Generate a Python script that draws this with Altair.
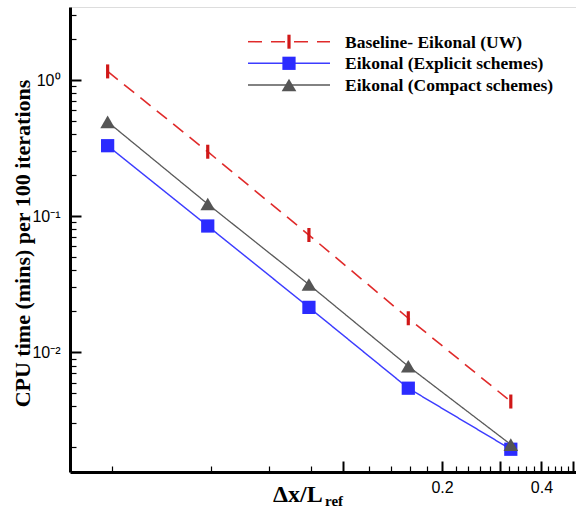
import altair as alt
import pandas as pd

# ---- data ----
dx = [0.0194, 0.039, 0.079, 0.158, 0.323]
baseline_uw = [1.16, 0.298, 0.0728, 0.0178, 0.00435]
explicit = [0.33, 0.0848, 0.0214, 0.00545, 0.00194]
compact = [0.494, 0.123, 0.0315, 0.0079, 0.0021]

series_names = ["Baseline- Eikonal (UW)", "Eikonal (Explicit schemes)", "Eikonal (Compact schemes)"]
series_values = [baseline_uw, explicit, compact]
line_colors = ["#e02a2a", "#3c3cff", "#5a5a5a"]
marker_colors = ["#d01818", "#2b2bff", "#555555"]

x_labels = [0.2, 0.4]
x_major = [0.1, 0.2, 0.3, 0.4, 0.5]
x_minor = [0.02, 0.04, 0.06, 0.08, 0.12, 0.14, 0.16, 0.18, 0.22, 0.24, 0.26, 0.28,
           0.32, 0.34, 0.36, 0.38, 0.42, 0.44, 0.46, 0.48]
y_labels = [1, 0.1, 0.01]
y_label_text = ["10⁰", "10⁻¹", "10⁻²"]
y_minor = [3, 2, 0.9, 0.8, 0.7, 0.6, 0.5, 0.4, 0.3, 0.2,
           0.09, 0.08, 0.07, 0.06, 0.05, 0.04, 0.03, 0.02,
           0.009, 0.008, 0.007, 0.006, 0.005, 0.004, 0.003, 0.002]

W, H = 506, 465

rows = []
for name, vals in zip(series_names, series_values):
    for xv, yv in zip(dx, vals):
        rows.append({"dx": xv, "cpu": yv, "series": name})
df = pd.DataFrame(rows)

xscale = alt.Scale(type="log", domain=[0.01492, 0.509], nice=False)
yscale = alt.Scale(type="log", domain=[0.00132, 3.45], nice=False)

y_label_expr = " : ".join(
    [f"datum.value == {v} ? '{t}'" for v, t in zip(y_labels, y_label_text)]) + " : ''"

main_x_axis = alt.Axis(values=x_labels, format=".1f", title=None, ticks=False, tickSize=0,
                       domain=True, domainWidth=3, domainColor="black", grid=False,
                       labelFont="Liberation Sans", labelFontSize=16, labelColor="black",
                       labelPadding=7)
main_y_axis = alt.Axis(values=y_labels, labelExpr=y_label_expr, ticks=False, tickSize=0,
                       domain=True, domainWidth=3, domainColor="black", grid=False,
                       labelFont="Liberation Sans", labelFontSize=16, labelColor="black",
                       labelPadding=10,
                       title="CPU time (mins) per 100 iterations",
                       titleFont="Liberation Serif", titleFontWeight="bold", titleFontSize=22,
                       titleColor="black", titleAngle=270, titleX=-41, titleY=236,
                       titleAlign="center", titleBaseline="alphabetic")

x_major_test = "indexof(" + str(x_major) + ", datum.value) >= 0"
y_major_test = "indexof(" + str(y_labels) + ", datum.value) >= 0"

tick_x_axis = alt.Axis(orient="top", offset=-H, values=x_major + x_minor, labels=False,
                       domain=False, grid=False, title=None, tickColor="black",
                       tickSize={"condition": {"test": x_major_test, "value": 11}, "value": 6},
                       tickWidth={"condition": {"test": x_major_test, "value": 2}, "value": 1.2})
tick_y_axis = alt.Axis(orient="right", offset=-W, values=y_labels + y_minor, labels=False,
                       domain=False, grid=False, title=None, tickColor="black",
                       tickSize={"condition": {"test": y_major_test, "value": 11}, "value": 6},
                       tickWidth={"condition": {"test": y_major_test, "value": 2}, "value": 1.2})

color_scale = alt.Scale(domain=series_names, range=line_colors)
dash_scale = alt.Scale(domain=series_names, range=[[13, 8], [1, 0], [1, 0]])
width_scale = alt.Scale(domain=series_names, range=[1.6, 1.3, 1.3])

lines = alt.Chart(df).mark_line().encode(
    x=alt.X("dx:Q", scale=xscale, axis=main_x_axis),
    y=alt.Y("cpu:Q", scale=yscale, axis=main_y_axis),
    color=alt.Color("series:N", scale=color_scale, legend=None),
    strokeDash=alt.StrokeDash("series:N", scale=dash_scale, legend=None),
    strokeWidth=alt.StrokeWidth("series:N", scale=width_scale, legend=None),
)

squares = alt.Chart(df).transform_filter(
    alt.datum.series == series_names[1]
).mark_point(shape="square", filled=True, size=175, opacity=1, color=marker_colors[1]).encode(
    x=alt.X("dx:Q", scale=xscale, axis=tick_x_axis),
    y=alt.Y("cpu:Q", scale=yscale, axis=tick_y_axis),
)

triangles = alt.Chart(df).transform_filter(
    alt.datum.series == series_names[2]
).mark_point(shape="triangle-up", filled=True, size=215, opacity=1, color=marker_colors[2]).encode(
    x=alt.X("dx:Q", scale=xscale, axis=None),
    y=alt.Y("cpu:Q", scale=yscale, axis=None),
)

bars = alt.Chart(df).transform_filter(
    alt.datum.series == series_names[0]
).mark_point(shape="M0,-1L0,1", filled=False, size=196, strokeWidth=3.2, opacity=1,
             color=marker_colors[0]).encode(
    x=alt.X("dx:Q", scale=xscale, axis=None),
    y=alt.Y("cpu:Q", scale=yscale, axis=None),
)

# ---- manual legend ----
legend_layers = []
leg_y = [34.7, 56.3, 78.0]
marker_specs = [
    dict(shape="M0,-1L0,1", filled=False, size=196, strokeWidth=3.2),
    dict(shape="square", filled=True, size=175),
    dict(shape="triangle-up", filled=True, size=215),
]
dashes = [[14, 9], [1, 0], [1, 0]]
for i, name in enumerate(series_names):
    one = pd.DataFrame({"name": [name]})
    legend_layers.append(
        alt.Chart(one).mark_rule(color=line_colors[i], strokeWidth=1.5, strokeDash=dashes[i]).encode(
            x=alt.value(178), x2=alt.value(260), y=alt.value(leg_y[i])))
    legend_layers.append(
        alt.Chart(one).mark_point(color=marker_colors[i], opacity=1, **marker_specs[i]).encode(
            x=alt.value(219), y=alt.value(leg_y[i])))
    legend_layers.append(
        alt.Chart(one).mark_text(align="left", baseline="middle", font="Liberation Serif",
                                 fontWeight="bold", fontSize=17.5, color="black").encode(
            x=alt.value(275), y=alt.value(leg_y[i] + 1), text="name:N"))

# ---- x title with subscript ----
title_main = alt.Chart(pd.DataFrame({"t": ["Δx/L"]})).mark_text(
    align="left", baseline="alphabetic", font="Liberation Serif", fontWeight="bold",
    fontSize=24, color="black").encode(x=alt.value(203), y=alt.value(495), text="t:N")
title_sub = alt.Chart(pd.DataFrame({"t": ["ref"]})).mark_text(
    align="left", baseline="alphabetic", font="Liberation Serif", fontWeight="bold",
    fontSize=15, color="black").encode(x=alt.value(255), y=alt.value(499), text="t:N")

chart = alt.layer(
    lines, squares, triangles, bars, *legend_layers, title_main, title_sub
).resolve_axis(
    x="independent", y="independent"
).properties(
    width=W, height=H,
    autosize=alt.AutoSizeParams(type="none"),
    padding={"left": 70, "top": 7, "right": 0, "bottom": 39},
).configure_view(stroke=None).configure(background="white")

chart.save("out.html", embed_options={"renderer": "svg", "actions": False})
